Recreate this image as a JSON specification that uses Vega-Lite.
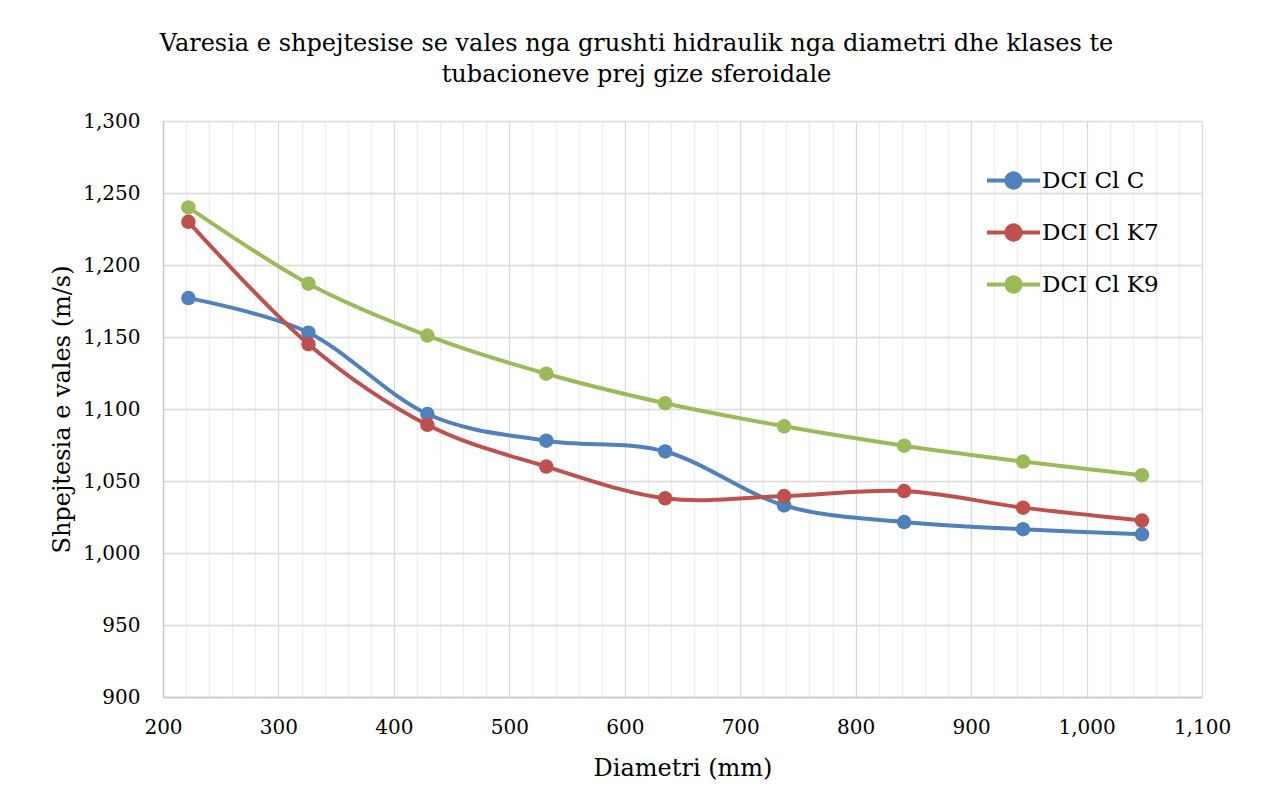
{
  "$schema": "https://vega.github.io/schema/vega-lite/v6.json",
  "width": 1039,
  "height": 576,
  "autosize": "none",
  "padding": {"left": 163, "top": 121, "right": 64, "bottom": 112},
  "background": "white",
  "title": {
    "text": ["Varesia e shpejtesise se vales nga grushti hidraulik nga diametri dhe klases te", "tubacioneve prej gize sferoidale"],
    "font": "DejaVu Serif",
    "fontSize": 24,
    "fontWeight": "normal",
    "color": "#000000",
    "lineHeight": 31,
    "anchor": "middle",
    "dx": -46,
    "offset": 24
  },
  "config": {
    "view": {"stroke": null},
    "font": "DejaVu Serif",
    "axis": {
      "labelFont": "DejaVu Serif",
      "titleFont": "DejaVu Serif",
      "labelFontSize": 20,
      "titleFontSize": 24,
      "titleFontWeight": "normal",
      "labelColor": "#000000",
      "titleColor": "#000000",
      "gridColor": "#d9d9d9",
      "gridWidth": 1.3,
      "domainColor": "#c8c8c8",
      "domainWidth": 1.3,
      "ticks": false,
      "tickSize": 0,
      "labelFlush": false
    },
    "legend": {
      "labelFont": "DejaVu Serif",
      "labelFontSize": 23,
      "labelColor": "#000000"
    }
  },
  "data": {
    "values": [
      {"d": 222, "v": 1177, "s": "DCI Cl C"},
      {"d": 326, "v": 1153, "s": "DCI Cl C"},
      {"d": 429, "v": 1096.5, "s": "DCI Cl C"},
      {"d": 532, "v": 1078, "s": "DCI Cl C"},
      {"d": 635, "v": 1070.5, "s": "DCI Cl C"},
      {"d": 738, "v": 1033, "s": "DCI Cl C"},
      {"d": 842, "v": 1021.5, "s": "DCI Cl C"},
      {"d": 945, "v": 1016.5, "s": "DCI Cl C"},
      {"d": 1048, "v": 1013, "s": "DCI Cl C"},
      {"d": 222, "v": 1230, "s": "DCI Cl K7"},
      {"d": 326, "v": 1145, "s": "DCI Cl K7"},
      {"d": 429, "v": 1089, "s": "DCI Cl K7"},
      {"d": 532, "v": 1060, "s": "DCI Cl K7"},
      {"d": 635, "v": 1038, "s": "DCI Cl K7"},
      {"d": 738, "v": 1039.5, "s": "DCI Cl K7"},
      {"d": 842, "v": 1043, "s": "DCI Cl K7"},
      {"d": 945, "v": 1031.5, "s": "DCI Cl K7"},
      {"d": 1048, "v": 1022.5, "s": "DCI Cl K7"},
      {"d": 222, "v": 1240, "s": "DCI Cl K9"},
      {"d": 326, "v": 1187, "s": "DCI Cl K9"},
      {"d": 429, "v": 1151, "s": "DCI Cl K9"},
      {"d": 532, "v": 1124.5, "s": "DCI Cl K9"},
      {"d": 635, "v": 1104, "s": "DCI Cl K9"},
      {"d": 738, "v": 1088, "s": "DCI Cl K9"},
      {"d": 842, "v": 1074.5, "s": "DCI Cl K9"},
      {"d": 945, "v": 1063.5, "s": "DCI Cl K9"},
      {"d": 1048, "v": 1054, "s": "DCI Cl K9"}
    ]
  },
  "resolve": {"axis": {"x": "independent"}},
  "layer": [
    {
      "mark": {"type": "line", "interpolate": "cardinal", "strokeWidth": 4, "strokeCap": "round"},
      "encoding": {
        "x": {
          "field": "d", "type": "quantitative",
          "scale": {"domain": [200, 1100], "nice": false, "zero": false},
          "axis": {
            "orient": "bottom",
            "values": [220, 240, 260, 280, 320, 340, 360, 380, 420, 440, 460, 480, 520, 540, 560, 580, 620, 640, 660, 680, 720, 740, 760, 780, 820, 840, 860, 880, 920, 940, 960, 980, 1020, 1040, 1060, 1080],
            "grid": true, "gridColor": "#efefef", "gridWidth": 1.5,
            "labels": false, "domain": false, "title": null
          }
        },
        "y": {
          "field": "v", "type": "quantitative",
          "scale": {"domain": [900, 1300], "nice": false, "zero": false},
          "axis": {
            "values": [900, 950, 1000, 1050, 1100, 1150, 1200, 1250, 1300],
            "format": ",.0f",
            "grid": true,
            "labelPadding": 23,
            "title": "Shpejtesia e vales (m/s)",
            "titlePadding": 8
          }
        },
        "color": {
          "field": "s", "type": "nominal",
          "scale": {"domain": ["DCI Cl C", "DCI Cl K7", "DCI Cl K9"], "range": ["#4f81bd", "#c0504d", "#9bbb59"]},
          "legend": {
            "title": null,
            "orient": "none",
            "legendX": 822,
            "legendY": 31,
            "symbolType": "M-1,0L1,0M-0.27,0A0.27,0.27 0 1,0 0.27,0A0.27,0.27 0 1,0 -0.27,0",
            "symbolSize": 2809,
            "symbolStrokeWidth": 4,
            "labelOffset": 0,
            "rowPadding": 8,
            "encode": {
              "symbols": {"update": {"fill": {"scale": "color", "field": "value"}, "stroke": {"scale": "color", "field": "value"}}}
            }
          }
        }
      }
    },
    {
      "mark": {"type": "point", "filled": true, "opacity": 1, "size": 210},
      "encoding": {
        "x": {
          "field": "d", "type": "quantitative",
          "axis": {
            "orient": "bottom",
            "values": [200, 300, 400, 500, 600, 700, 800, 900, 1000, 1100],
            "format": ",.0f",
            "grid": true,
            "labelPadding": 20,
            "title": "Diametri (mm)",
            "titlePadding": 19
          }
        },
        "y": {"field": "v", "type": "quantitative"},
        "color": {"field": "s", "type": "nominal"}
      }
    }
  ]
}
